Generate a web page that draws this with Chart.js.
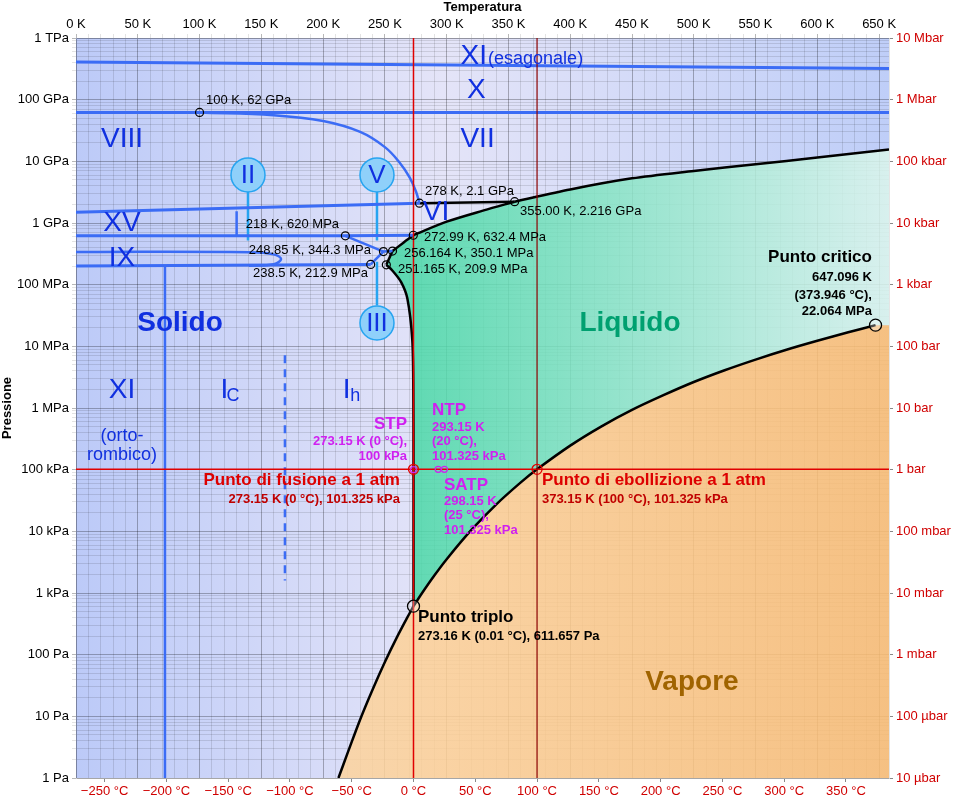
<!DOCTYPE html>
<html><head><meta charset="utf-8">
<script src="https://cdn.jsdelivr.net/npm/chart.js@4/dist/chart.umd.min.js"></script>
<style>html,body{margin:0;padding:0;background:#fff}</style>
</head><body>
<canvas id="c" width="960" height="800"></canvas>
<script>
// ---- data (T in K, P in Pa) ----
const sublimation = [[212.4,1],[220,2.6],[230,8.9],[240,27],[250,76],[260,196],[270,470],[273.16,611.657]];
const vaporization = [[273.16,611.657],[280,991],[290,1920],[300,3536],[320,10540],[340,27190],[360,62190],[373.15,101325],[400,245600],[425,500000],[450,932000],[475,1.6e6],[500,2.64e6],[525,4.1e6],[550,6.1e6],[575,8.8e6],[600,12.3e6],[625,16.9e6],[647.096,22.064e6]];
const meltIh = [[273.16,611.657],[273.155,1e5],[273.0,2e6],[272.15,1.3e7],[268.15,6e7],[263.15,1.1e8],[256,1.7e8],[251.165,2.099e8]];
const meltIII = [[251.165,2.099e8],[256.164,3.501e8]];
const meltV = [[256.164,3.501e8],[265,4.8e8],[272.99,6.324e8]];
const meltVI = [[272.99,6.324e8],[300,1.05e9],[330,1.6e9],[355,2.216e9]];
const meltVII = [[355,2.216e9],[400,3.5e9],[450,5.3e9],[500,7e9],[550,9e9],[600,1.15e10],[658,1.55e10]];
const lineVI_VII = [[278,2.1e9],[355,2.216e9]];
const lineXI_X = [[0,4.1e11],[658,3.2e11]];
const lineVIII_X = [[0,6.2e10],[658,6.2e10]];
const lineVIII_VII = [[100,6.2e10],[160,5.6e10],[200,4.5e10],[230,3e10],[250,1.7e10],[262,9.5e9],[270,5.5e9],[275,3.3e9],[278,2.1e9]];
const lineXVtop = [[0,1.5e9],[278,2.1e9]];
const line620 = [[0,6.2e8],[218,6.2e8],[272.99,6.324e8]];
const lineII_V = [[218,6.2e8],[248.85,3.443e8]];
const ixLoop = [[0,3.4e8],[140,3.35e8],[160,3.1e8],[166,2.6e8],[160,2.15e8],[140,2.02e8]];
const ixBottom = [[0,2.0e8],[238.5,2.129e8]];
const lineIII_a = [[238.5,2.129e8],[248.85,3.443e8],[256.164,3.501e8]];
const lineXI_Ih = [[72,1],[72,2.0e8]];
const lineXVvert = [[130,1.55e9],[130,6.2e8]];
const stemII = [[139.2,3.4e9],[139.2,5.2e8]];
const stemV = [[243.6,3.2e9],[243.6,5.2e8]];
const stemIII = [[243.6,2.35e8],[243.6,4.6e7]];
const lineIc_Ih = [[169.1,7.2e6],[169.1,1.6e3]];
const redV0 = [[273.15,1],[273.15,1e12]];
const redV100 = [[373.15,1],[373.15,1e12]];
const redH = [[0,101325],[658,101325]];
const markers = [[100,6.2e10],[278,2.1e9],[355,2.216e9],[218,6.2e8],[272.99,6.324e8],[248.85,3.443e8],[256.164,3.501e8],[238.5,2.129e8],[251.165,2.099e8]];
const bigMarkers = [[647.096,22.064e6],[273.16,611.657]];
const redMarkers = [[273.15,101325],[373.15,101325]];
const stdMarkers = [[273.15,1e5],[293.15,101325],[298.15,101325]];
const kTicks = []; for (let t=0;t<=650;t+=10) kTicks.push(t);
const cTicks = []; for (let t=-270;t<=380;t+=10) cTicks.push(t);
const pTicks = []; for (let e=0;e<=12;e++) for (let m=1;m<=9;m++){ if(e===12&&m>1)break; pTicks.push(m*Math.pow(10,e)); }
const paLabels = ['1 Pa','10 Pa','100 Pa','1 kPa','10 kPa','100 kPa','1 MPa','10 MPa','100 MPa','1 GPa','10 GPa','100 GPa','1 TPa'];
const barLabels = ['10 µbar','100 µbar','1 mbar','10 mbar','100 mbar','1 bar','10 bar','100 bar','1 kbar','10 kbar','100 kbar','1 Mbar','10 Mbar'];

// text annotations: [T(K), log10 P, text, color, font, align]
const B='#1030e0', M='#d020f0';
const texts = [
 [332.6,11.71,'XI',B,'28px Liberation Sans','right'],[333.5,11.66,'(esagonale)',B,'18px Liberation Sans','left'],
 [324,11.16,'X',B,'28px Liberation Sans','center'],
 [37.2,10.35,'VIII',B,'28px Liberation Sans','center'],[325,10.35,'VII',B,'28px Liberation Sans','center'],
 [291.4,9.18,'VI',B,'28px Liberation Sans','center'],[37.2,9.0,'XV',B,'28px Liberation Sans','center'],
 [37.2,8.42,'IX',B,'28px Liberation Sans','center'],
 [84.2,7.38,'Solido',B,'bold 28px Liberation Sans','center'],
 [448.4,7.38,'Liquido','#00a070','bold 28px Liberation Sans','center'],
 [498.5,1.56,'Vapore','#a06400','bold 28px Liberation Sans','center'],
 [37.2,6.29,'XI',B,'28px Liberation Sans','center'],[37.2,5.55,'(orto-',B,'18px Liberation Sans','center'],[37.2,5.24,'rombico)',B,'18px Liberation Sans','center'],
 [120,6.29,'I',B,'28px Liberation Sans','center'],[127,6.2,'C',B,'18px Liberation Sans','center'],
 [219,6.29,'I',B,'28px Liberation Sans','center'],[226,6.2,'h',B,'18px Liberation Sans','center'],
 [644.2,8.45,'Punto critico','#000','bold 17px Liberation Sans','right'],
 [644.2,8.11,'647.096 K','#000','bold 13px Liberation Sans','right'],
 [644.2,7.83,'(373.946 °C),','#000','bold 13px Liberation Sans','right'],
 [644.2,7.57,'22.064 MPa','#000','bold 13px Liberation Sans','right'],
 [267.9,5.74,'STP',M,'bold 17px Liberation Sans','right'],
 [267.9,5.45,'273.15 K (0 °C),',M,'bold 13px Liberation Sans','right'],
 [267.9,5.21,'100 kPa',M,'bold 13px Liberation Sans','right'],
 [288.1,5.97,'NTP',M,'bold 17px Liberation Sans','left'],
 [288.1,5.69,'293.15 K',M,'bold 13px Liberation Sans','left'],
 [288.1,5.45,'(20 °C),',M,'bold 13px Liberation Sans','left'],
 [288.1,5.21,'101.325 kPa',M,'bold 13px Liberation Sans','left'],
 [297.8,4.75,'SATP',M,'bold 17px Liberation Sans','left'],
 [297.8,4.48,'298.15 K',M,'bold 13px Liberation Sans','left'],
 [297.8,4.25,'(25 °C),',M,'bold 13px Liberation Sans','left'],
 [297.8,4.02,'101.325 kPa',M,'bold 13px Liberation Sans','left'],
 [262.2,4.82,'Punto di fusione a 1 atm','#dd0000','bold 17px Liberation Sans','right'],
 [262.2,4.52,'273.15 K (0 °C), 101.325 kPa','#c00000','bold 13px Liberation Sans','right'],
 [377.1,4.82,'Punto di ebollizione a 1 atm','#dd0000','bold 17px Liberation Sans','left'],
 [377.1,4.52,'373.15 K (100 °C), 101.325 kPa','#c00000','bold 13px Liberation Sans','left'],
 [276.8,2.6,'Punto triplo','#000','bold 17px Liberation Sans','left'],
 [276.8,2.30,'273.16 K (0.01 °C), 611.657 Pa','#000','bold 13px Liberation Sans','left'],
 [105.2,10.99,'100 K, 62 GPa','#000','13px Liberation Sans','left'],
 [282.5,9.52,'278 K, 2.1 GPa','#000','13px Liberation Sans','left'],
 [359.3,9.18,'355.00 K, 2.216 GPa','#000','13px Liberation Sans','left'],
 [212.9,8.98,'218 K, 620 MPa','#000','13px Liberation Sans','right'],
 [281.6,8.76,'272.99 K, 632.4 MPa','#000','13px Liberation Sans','left'],
 [238.7,8.56,'248.85 K, 344.3 MPa','#000','13px Liberation Sans','right'],
 [265.5,8.50,'256.164 K, 350.1 MPa','#000','13px Liberation Sans','left'],
 [236.3,8.19,'238.5 K, 212.9 MPa','#000','13px Liberation Sans','right'],
 [260.6,8.24,'251.165 K, 209.9 MPa','#000','13px Liberation Sans','left']
];
const bubbles = [[139.2,9.78,'II'],[243.6,9.78,'V'],[243.6,7.38,'III']];

const pts = a => a.map(p=>({x:p[0],y:p[1]}));
const liquidShape = [...meltIh,...meltIII.slice(1),...meltV.slice(1),...meltVI.slice(1),...meltVII.slice(1),[658,22.064e6],...vaporization.slice().reverse()];
const vaporShape = [...sublimation,...vaporization.slice(1),[658,22.064e6],[658,1],[212.4,1]];

function grad(ctx, stops, vertical){
  const ca = ctx.chart.chartArea; if(!ca) return stops[0][1];
  const g = vertical ? ctx.chart.ctx.createLinearGradient(0,ca.top,0,ca.bottom) : ctx.chart.ctx.createLinearGradient(ca.left,0,ca.right,0);
  stops.forEach(s=>g.addColorStop(s[0],s[1])); return g;
}
const line = (d,color,w,extra) => Object.assign({type:'line',data:pts(d),borderColor:color,borderWidth:w,pointRadius:0,fill:false,tension:0,order:5},extra||{});
const BL='#3b6cf5', SB='#27a4f0';

const bgPlugin = {id:'bg',beforeDraw(chart){
  const {ctx,chartArea:ca}=chart;
  const g=ctx.createLinearGradient(ca.left,0,ca.right,0);
  g.addColorStop(0,'#bccaf8');g.addColorStop(0.45,'#e4e4f8');g.addColorStop(1,'#bfcef8');
  ctx.save();ctx.fillStyle=g;ctx.fillRect(ca.left,ca.top,ca.right-ca.left,ca.bottom-ca.top);ctx.restore();
}};
const annPlugin = {id:'ann',afterDatasetsDraw(chart){
  const {ctx}=chart, xs=chart.scales.x, ys=chart.scales.y;
  ctx.save();
  bubbles.forEach(b=>{
    const x=xs.getPixelForValue(b[0]), y=ys.getPixelForValue(Math.pow(10,b[1]));
    ctx.beginPath();ctx.arc(x,y,17,0,Math.PI*2);ctx.fillStyle='#8fd0fa';ctx.fill();ctx.lineWidth=1.5;ctx.strokeStyle=SB;ctx.stroke();
    ctx.fillStyle=B;ctx.font='26px Liberation Sans';ctx.textAlign='center';ctx.textBaseline='middle';ctx.fillText(b[2],x,y+1);
  });
  texts.forEach(t=>{
    ctx.font=t[4];ctx.fillStyle=t[3];ctx.textAlign=t[5];ctx.textBaseline='middle';
    ctx.fillText(t[2],xs.getPixelForValue(t[0]),ys.getPixelForValue(Math.pow(10,t[1])));
  });
  ctx.restore();
}};
const gridCol = c => (c.tick && c.tick.major) ? 'rgba(0,0,0,0.28)' : 'rgba(0,0,0,0.11)';
const FONT='Liberation Sans';

new Chart(document.getElementById('c'),{
  data:{datasets:[
    {type:'line',data:pts(vaporShape),fill:'shape',borderWidth:0,pointRadius:0,order:10,
     backgroundColor:c=>grad(c,[[0,'rgba(252,222,180,0.85)'],[1,'rgba(255,190,110,0.85)']],false)},
    {type:'line',data:pts(liquidShape),fill:'shape',borderWidth:0,pointRadius:0,order:10,
     backgroundColor:c=>grad(c,[[0.4,'rgba(70,215,165,0.85)'],[1,'rgba(220,246,236,0.85)']],false)},
    line(redV0,'#e00000',1.5), line(redV100,'#8a0000',1.2), line(redH,'#e00000',1.5),
    line(lineXI_X,BL,3), line(lineVIII_X,BL,3), line(lineVIII_VII,BL,2.5,{tension:0.4}),
    line(lineXVtop,BL,3), line(line620,BL,3), line(lineII_V,BL,2.5), line(ixLoop,BL,2.5,{tension:0.4}),
    line(ixBottom,BL,3), line(lineIII_a,BL,2.5), line(lineXI_Ih,BL,2.5), line(lineXVvert,BL,2.5),
    line(stemII,SB,2.5), line(stemV,SB,2.5), line(stemIII,SB,2.5), line(lineIc_Ih,BL,2.5,{borderDash:[8,6]}),
    line(sublimation,'#000',2.5,{tension:0.3}), line(vaporization,'#000',2.5,{tension:0.3}),
    line(meltIh,'#000',2.5,{tension:0.3}), line(meltIII,'#000',2.5), line(meltV,'#000',2.5,{tension:0.3}),
    line(meltVI,'#000',2.5,{tension:0.3}), line(meltVII,'#000',2.5,{tension:0.3}), line(lineVI_VII,'#000',2.5),
    {type:'scatter',data:pts(markers),pointRadius:4,pointBackgroundColor:'rgba(255,255,255,0)',pointBorderColor:'#000',pointBorderWidth:1.2,order:1},
    {type:'scatter',data:pts(bigMarkers),pointRadius:6,pointBackgroundColor:'rgba(255,255,255,0.3)',pointBorderColor:'#000',pointBorderWidth:1.3,order:1},
    {type:'scatter',data:pts(redMarkers),pointRadius:5,pointBackgroundColor:'rgba(255,255,255,0)',pointBorderColor:'#e00000',pointBorderWidth:1.3,order:1},
    {type:'scatter',data:pts(stdMarkers),pointRadius:3,pointBackgroundColor:'rgba(255,255,255,0)',pointBorderColor:M,pointBorderWidth:1.2,order:1}
  ]},
  options:{
    responsive:false,animation:false,events:[],
    layout:{padding:0},
    plugins:{legend:{display:false},tooltip:{enabled:false}},
    scales:{
      x:{type:'linear',position:'top',min:0,max:658,
        afterBuildTicks:s=>{s.ticks=kTicks.map(v=>({value:v,major:v%50===0}));},
        afterFit:s=>{s.height=38;},
        ticks:{autoSkip:false,maxRotation:0,padding:2,color:'#000',font:{family:FONT,size:13},callback:v=>v%50===0?v+' K':''},
        grid:{color:gridCol,tickLength:4},
        title:{display:true,text:'Temperatura',color:'#000',font:{family:FONT,size:13,weight:'bold'},padding:0}},
      xc:{type:'linear',position:'bottom',min:-273.15,max:384.85,
        afterBuildTicks:s=>{s.ticks=cTicks.filter(v=>v%50===0).map(v=>({value:v}));},
        afterFit:s=>{s.height=22;},
        ticks:{autoSkip:false,maxRotation:0,padding:2,color:'#d00000',font:{family:FONT,size:13},callback:v=>(v<0?'\u2212'+(-v):v)+' °C'},
        grid:{drawOnChartArea:false,tickLength:4,color:'#888'}},
      y:{type:'logarithmic',position:'left',min:1,max:1e12,
        afterBuildTicks:s=>{s.ticks=pTicks.map(v=>({value:v,major:Math.abs(Math.log10(v)-Math.round(Math.log10(v)))<1e-9}));},
        afterFit:s=>{s.width=76;},
        ticks:{autoSkip:false,padding:3,color:'#000',font:{family:FONT,size:13},callback:v=>{const l=Math.log10(v);return Math.abs(l-Math.round(l))<1e-9?paLabels[Math.round(l)]:'';}},
        grid:{color:gridCol,tickLength:4},
        title:{display:true,text:'Pressione',color:'#000',font:{family:FONT,size:13,weight:'bold'},padding:0}},
      y2:{type:'logarithmic',position:'right',min:1,max:1e12,
        afterBuildTicks:s=>{s.ticks=pTicks.filter(v=>Math.abs(Math.log10(v)-Math.round(Math.log10(v)))<1e-9).map(v=>({value:v}));},
        afterFit:s=>{s.width=71;},
        ticks:{autoSkip:false,padding:3,color:'#d00000',font:{family:FONT,size:13},callback:v=>barLabels[Math.round(Math.log10(v))]},
        grid:{drawOnChartArea:false,tickLength:4,color:'#888'}}
    }
  },
  plugins:[bgPlugin,annPlugin]
});
</script>
</body></html>
